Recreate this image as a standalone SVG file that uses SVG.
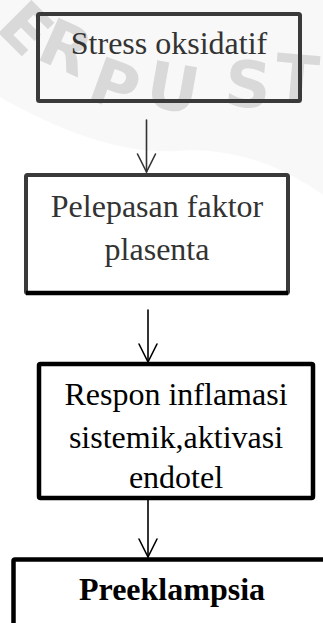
<svg xmlns="http://www.w3.org/2000/svg" width="323" height="623" viewBox="0 0 323 623">
<style>
.bg{fill:#ffffff}
.wm{font-family:"DejaVu Sans","Liberation Sans",sans-serif;font-weight:bold;font-size:64px;fill:#d9d9d9;text-anchor:middle}
.band{fill:#f3f3f3}
.box{fill:none;stroke-linejoin:round}
.grey{stroke:#3a3a3a;stroke-width:4}
.black{stroke:#000;stroke-width:4.5}
.t{font-family:"Liberation Serif","Times New Roman",serif;font-size:32px;text-anchor:middle}
.tg{fill:#333}
.tb{fill:#000}
.conn{fill:none;stroke-width:1.6;stroke-linecap:round;stroke-linejoin:miter}
</style>
<rect class="bg" x="0" y="0" width="323" height="623"/>
<g id="watermark">
<path class="band" d="M0,97 Q110,160 190,150 Q260,150 323,195 L323,0 L0,0 Z" opacity="0.6"/>
<text class="wm" transform="translate(26,28) rotate(45)" y="23">E</text>
<text class="wm" transform="translate(66,47) rotate(24)" y="23">R</text>
<text class="wm" transform="translate(115,85) rotate(20)" y="23">P</text>
<text class="wm" transform="translate(173,87) rotate(10)" y="23">U</text>
<text class="wm" transform="translate(248,84) rotate(5)" y="23">S</text>
<text class="wm" transform="translate(297,78) rotate(5)" y="23">T</text>
</g>
<g id="connectors">
<g stroke="#333" class="conn">
<line x1="146.5" y1="120" x2="146.5" y2="172"/>
<polyline points="137.5,154 146.5,172 155.5,154"/>
</g>
<g stroke="#000" class="conn">
<line x1="148" y1="310" x2="148" y2="362"/>
<polyline points="139,344 148,362 157,344"/>
<line x1="148" y1="498" x2="148" y2="557"/>
<polyline points="139,539 148,557 157,539"/>
</g>
</g>
<g id="node1">
<rect class="box grey" x="38" y="14" width="262" height="87" rx="1.5"/>
<text class="t tg" x="169" y="54">Stress oksidatif</text>
</g>
<g id="node2">
<rect class="box grey" x="26" y="175" width="262" height="118" rx="1.5"/>
<line x1="26" y1="293" x2="288" y2="293" stroke="#000" stroke-width="4.5"/>
<text class="t tg" x="157" y="217">Pelepasan faktor</text>
<text class="t tg" x="157" y="260">plasenta</text>
</g>
<g id="node3">
<rect class="box black" x="39" y="364" width="274" height="134" rx="1.5"/>
<text class="t tb" x="176" y="405">Respon inflamasi</text>
<text class="t tb" x="176" y="448">sistemik,aktivasi</text>
<text class="t tb" x="176" y="488">endotel</text>
</g>
<g id="node4">
<rect class="box black" x="13.5" y="559.5" width="330" height="90" rx="1.5"/>
<text class="t tb" x="172" y="600" font-weight="bold">Preeklampsia</text>
</g>
</svg>
